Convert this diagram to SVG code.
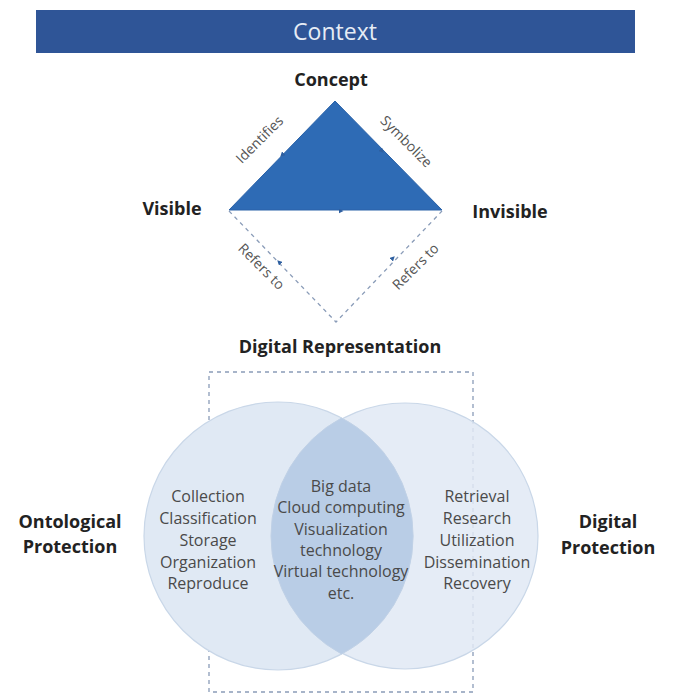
<svg xmlns="http://www.w3.org/2000/svg" width="673" height="696" viewBox="0 0 673 696">
<defs>
<style>
.lbl{font-family:"Open Sans","Liberation Sans",sans-serif;font-weight:bold;font-size:18px;fill:#222;text-anchor:middle}
.item{font-family:"Open Sans","Liberation Sans",sans-serif;font-size:16px;fill:#4a4a4a;text-anchor:middle}
.edge{font-family:"Open Sans","Liberation Sans",sans-serif;font-size:14px;fill:#555;text-anchor:middle}
.dash{stroke:#8a9cb8;stroke-width:1.3;stroke-dasharray:4 4;fill:none}
</style>
<marker id="arr" viewBox="0 0 10 10" refX="5" refY="5" markerWidth="5" markerHeight="5" orient="auto"><path d="M0,0L10,5L0,10z" fill="#2e5fa0"/></marker>
</defs>
<rect width="673" height="696" fill="#fff"/>
<g id="context">
<rect x="36" y="10" width="599" height="43" fill="#2f5597"/>
<text x="335" y="40" font-family="'Open Sans','Liberation Sans',sans-serif" font-size="23" fill="#e6ecf5" text-anchor="middle">Context</text>
</g>
<g id="triangle">
<polygon points="335,101 229,210 442,210" fill="#2e6bb5" stroke="#2a62a8" stroke-width="1"/>
</g>
<g id="connectors">
<path d="M229,211 L336,322 L442,211" class="dash"/>
<path d="M283,266 L279,262" stroke="none" fill="none" marker-end="url(#arr)"/>
<path d="M389,262 L393,258" stroke="none" fill="none" marker-end="url(#arr)"/>
<path d="M286,151 L282,155" stroke="none" fill="none" marker-end="url(#arr)"/>
<path d="M378,147 L382,151" stroke="none" fill="none" marker-end="url(#arr)"/>
<path d="M336,211 L341,211" stroke="none" fill="none" marker-end="url(#arr)"/>
<text class="edge" transform="translate(263,143) rotate(-45)">Identifies</text>
<text class="edge" transform="translate(403,145) rotate(45)">Symbolize</text>
<text class="edge" transform="translate(258,270) rotate(45)">Refers to</text>
<text class="edge" transform="translate(419,270) rotate(-45)">Refers to</text>
</g>
<g id="concept"><text class="lbl" x="331" y="86">Concept</text></g>
<g id="visible"><text class="lbl" x="172" y="215">Visible</text></g>
<g id="invisible"><text class="lbl" x="510" y="218">Invisible</text></g>
<g id="digital-representation"><text class="lbl" x="340" y="353">Digital Representation</text></g>
<g id="frame"><rect x="209" y="372" width="264" height="320" class="dash"/></g>
<g id="venn">
<circle cx="278" cy="536" r="134" fill="#e0e9f4" stroke="#c9d7e8" stroke-width="1.2"/>
<circle cx="405" cy="536" r="133" fill="#e0e9f4" fill-opacity="0.85" stroke="#c9d7e8" stroke-width="1.2"/>
<path d="M341.5,418 A133,133 0 0 1 341.5,654 A134,134 0 0 1 341.5,418 Z" fill="#b9cde6" stroke="#c0d1e6"/>
</g>
<g id="ontological">
<text class="item" x="208" y="502">Collection</text>
<text class="item" x="208" y="524">Classification</text>
<text class="item" x="208" y="546">Storage</text>
<text class="item" x="208" y="568">Organization</text>
<text class="item" x="208" y="589">Reproduce</text>
</g>
<g id="tech">
<text class="item" x="341" y="492">Big data</text>
<text class="item" x="341" y="513">Cloud computing</text>
<text class="item" x="341" y="535">Visualization</text>
<text class="item" x="341" y="556">technology</text>
<text class="item" x="341" y="577">Virtual technology</text>
<text class="item" x="341" y="599">etc.</text>
</g>
<g id="digital">
<text class="item" x="477" y="502">Retrieval</text>
<text class="item" x="477" y="524">Research</text>
<text class="item" x="477" y="546">Utilization</text>
<text class="item" x="477" y="568">Dissemination</text>
<text class="item" x="477" y="589">Recovery</text>
</g>
<g id="ontological-label">
<text class="lbl" x="70" y="528">Ontological</text>
<text class="lbl" x="70" y="553">Protection</text>
</g>
<g id="digital-label">
<text class="lbl" x="608" y="528">Digital</text>
<text class="lbl" x="608" y="554">Protection</text>
</g>
</svg>
